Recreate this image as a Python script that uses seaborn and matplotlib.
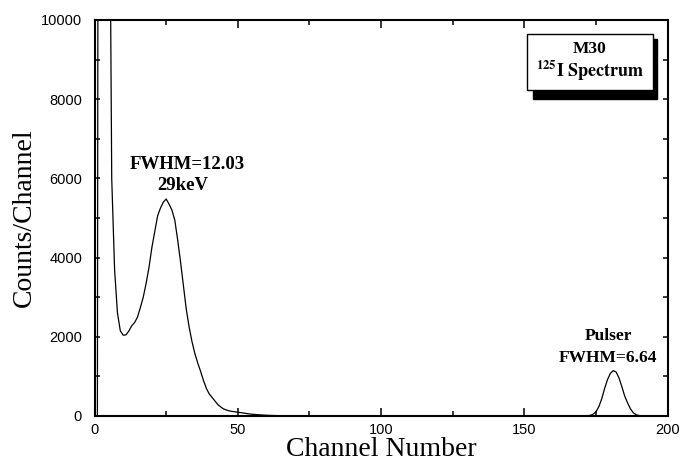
import matplotlib
matplotlib.use("Agg")
import matplotlib.pyplot as plt
import seaborn as sns
import pandas as pd
from matplotlib.patches import Rectangle
from matplotlib.ticker import MultipleLocator

# Spectrum counts per channel (low-energy region with the 29 keV peak)
channels_low = list(range(0, 67))
counts_low = [
    0, 0, 60000, 60000, 45000, 17000, 6000, 3700, 2600, 2150,
    2040, 2050, 2150, 2280, 2360, 2500, 2740, 3000, 3350, 3750,
    4250, 4650, 5050, 5250, 5400, 5480, 5350, 5200, 4950, 4450,
    3900, 3300, 2700, 2250, 1880, 1580, 1340, 1130, 900, 700,
    560, 470, 380, 290, 230, 180, 150, 130, 115, 105,
    95, 85, 75, 62, 52, 44, 38, 32, 27, 23,
    19, 16, 13, 11, 9, 7, 5,
]
# Empty middle of the spectrum
channels_mid = [70, 100, 150, 170]
counts_mid = [2, 0, 0, 0]
# Pulser peak
channels_pulser = list(range(171, 193)) + [200]
counts_pulser = [
    3, 8, 18, 45, 110, 240, 440, 700, 920, 1080,
    1145, 1110, 960, 740, 500, 330, 180, 80, 30, 12,
    4, 0, 0,
]

channels = channels_low + channels_mid + channels_pulser
counts = counts_low + counts_mid + counts_pulser
df = pd.DataFrame({"Channel Number": channels, "Counts/Channel": counts})

x_ticks = [0, 50, 100, 150, 200]
y_ticks = [0, 2000, 4000, 6000, 8000, 10000]

sns.set_theme(style="ticks")
plt.rcParams["mathtext.fontset"] = "stix"
plt.rcParams["text.color"] = "black"

fig = plt.figure(figsize=(6.84, 4.65), dpi=100)
ax = fig.add_axes([0.1382, 0.1054, 0.8380, 0.8516])

sns.lineplot(data=df, x="Channel Number", y="Counts/Channel", ax=ax,
             color="black", linewidth=0.9, sort=True, estimator=None)

ax.set_xlim(0, 200)
ax.set_ylim(0, 10000)
ax.set_xticks(x_ticks)
ax.set_yticks(y_ticks)
ax.xaxis.set_minor_locator(MultipleLocator(25))
ax.yaxis.set_minor_locator(MultipleLocator(1000))

sans = "Liberation Sans"
serif = "Liberation Serif"
for lab in ax.get_xticklabels() + ax.get_yticklabels():
    lab.set_fontfamily(sans)
    lab.set_fontsize(10.5)
    lab.set_color("black")

ax.tick_params(axis="x", which="major", direction="in", length=6, width=1.1,
               top=True, bottom=True, pad=5, colors="black")
ax.tick_params(axis="x", which="minor", direction="in", length=3.8, width=1.1,
               top=True, bottom=True, colors="black")
ax.tick_params(axis="y", which="both", direction="in", length=3.8, width=1.1,
               left=True, right=True, pad=9, colors="black")

for sp in ax.spines.values():
    sp.set_visible(True)
    sp.set_linewidth(1.5)
    sp.set_color("black")

ax.set_xlabel("Channel Number", fontfamily=serif, fontsize=20, labelpad=0,
              color="black")
ax.set_ylabel("Counts/Channel", fontfamily=serif, fontsize=20, labelpad=3,
              color="black")

# Peak annotations
bold = dict(ha="center", va="center", fontfamily=serif, fontweight="bold",
            color="black")
ax.text(32.3, 6350, "FWHM=12.03", fontsize=13.5, **bold)
ax.text(30.7, 5810, "29keV", fontsize=13.5, **bold)
ax.text(179.2, 2020, "Pulser", fontsize=12.5, **bold)
ax.text(179.2, 1465, "FWHM=6.64", fontsize=12.5, **bold)

# Title box with drop shadow
ax.add_patch(Rectangle((0.765, 0.8005), 0.9813 - 0.765, 0.952 - 0.8005,
                       transform=ax.transAxes, facecolor="black",
                       edgecolor="black", zorder=4))
ax.add_patch(Rectangle((0.7545, 0.823), 0.9744 - 0.7545, 0.9646 - 0.823,
                       transform=ax.transAxes, facecolor="white",
                       edgecolor="black", linewidth=1.0, zorder=5))
ax.text(0.8644, 0.928, "M30", transform=ax.transAxes, fontsize=12.5,
        zorder=6, **bold)
ax.text(0.8644, 0.872, r"$\mathbf{^{125}I\ Spectrum}$", transform=ax.transAxes,
        ha="center", va="center", fontsize=13, color="black", zorder=6)

fig.savefig("out.png", dpi=100)
